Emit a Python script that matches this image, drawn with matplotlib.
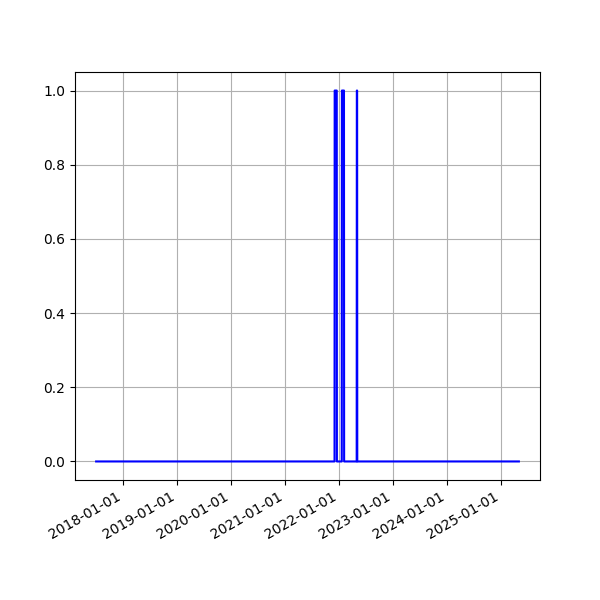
import numpy as np
import pandas as pd
import matplotlib
matplotlib.use('Agg')
import matplotlib.pyplot as plt
import matplotlib.dates as mdates

# pontos de mudanca da serie (0 = normal, 1 = evento)
datas = ['2017-07-02', '2021-12-02', '2021-12-03', '2021-12-17', '2021-12-18',
         '2022-01-20', '2022-01-21', '2022-02-04', '2022-02-05',
         '2022-05-01', '2022-05-02', '2022-05-04', '2022-05-05', '2025-05-03']
valores = [0, 0, 1, 1, 0,
           0, 1, 1, 0,
           0, 1, 1, 0, 0]

t = pd.to_datetime(datas)
x = np.array(valores)

fig, ax = plt.subplots(figsize=(6, 6), dpi=100)
ax.plot(t, x, color='b')
ax.xaxis.set_major_locator(mdates.YearLocator())
ax.xaxis.set_major_formatter(mdates.DateFormatter('%Y-%m-%d'))
ax.grid(True)
fig.autofmt_xdate()
plt.savefig('out.png')
